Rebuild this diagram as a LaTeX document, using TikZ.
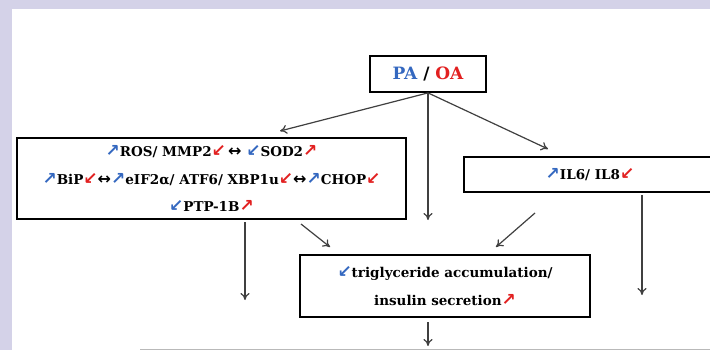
\documentclass[tikz,border=0pt]{standalone}
\usepackage{fontspec}
\setmainfont{DejaVu Serif}
\newfontfamily\arrowfont{DejaVu Sans}
\usetikzlibrary{arrows.meta}
\definecolor{upblue}{RGB}{52,104,192}
\definecolor{downred}{RGB}{226,32,32}
\definecolor{framebg}{RGB}{212,210,232}
\newcommand{\glyphsz}{\fontsize{17}{27.5}\selectfont}
\newcommand{\upb}{{\arrowfont\bfseries\glyphsz\textcolor{upblue}{↗}}}
\newcommand{\dnb}{{\arrowfont\bfseries\glyphsz\textcolor{upblue}{↙}}}
\newcommand{\upr}{{\arrowfont\bfseries\glyphsz\textcolor{downred}{↗}}}
\newcommand{\dnr}{{\arrowfont\bfseries\glyphsz\textcolor{downred}{↙}}}
\newcommand{\both}{{\arrowfont\fontsize{16}{27.5}\selectfont ↔}}
\tikzset{
  box/.style={draw, line width=1.8pt, align=center, inner sep=0pt},
  link/.style={draw, line width=1.2pt, color=black!75, -{To[length=7pt,width=9pt]}},
}
\begin{document}
\begin{tikzpicture}[x=1pt,y=-1pt,font=\bfseries\fontsize{13.5}{27.5}\selectfont]
\fill[framebg] (0,0) rectangle (710,350);
\fill[white] (12,9) rectangle (710,350);
\clip (0,0) rectangle (710,350);
\node[box, minimum width=116, minimum height=36, font=\bfseries\fontsize{17}{20}\selectfont] (pa) at (428,74) {\textcolor{upblue}{PA} / \textcolor{downred}{OA}};
\node[box, minimum width=389, minimum height=81] (stress) at (211.5,178.5) {\upb ROS/ MMP2\dnr\,\both\ \dnb SOD2\upr\\ \upb BiP\dnr\both\upb eIF2α/ ATF6/ XBP1u\dnr\both\upb CHOP\dnr\\ \dnb PTP-1B\upr};
\node[box, minimum width=270, minimum height=35] (il) at (599,174.5) {};
\node (iltext) at (590,174.5) {\upb IL6/ IL8\dnr};
\node[box, minimum width=290, minimum height=62] (trig) at (445,286) {\dnb triglyceride accumulation/\\insulin secretion\upr};

\coordinate (sIn) at (280,131);
\coordinate (mid) at (428,220);
\coordinate (ilIn) at (548,149);
\coordinate (sOut) at (245,222);
\coordinate (sEnd) at (245,300);
\coordinate (sOut2) at (301,224);
\coordinate (tIn1) at (330,247);
\coordinate (ilOut) at (535,213);
\coordinate (tIn2) at (496,247);
\coordinate (ilOut2) at (642,195);
\coordinate (ilEnd) at (642,295);
\coordinate (tOut) at (428,322);
\coordinate (tEnd) at (428,346);
\coordinate (lineL) at (140,349);
\coordinate (lineR) at (710,349);

\path[draw, gray!55, line width=1pt] (lineL) -- (lineR);

\path[link] (pa.south) -- (sIn);
\path[link] (pa.south) -- (mid);
\path[link] (pa.south) -- (ilIn);
\path[link] (sOut) -- (sEnd);
\path[link] (sOut2) -- (tIn1);
\path[link] (ilOut) -- (tIn2);
\path[link] (ilOut2) -- (ilEnd);
\path[link] (tOut) -- (tEnd);
\end{tikzpicture}
\end{document}
